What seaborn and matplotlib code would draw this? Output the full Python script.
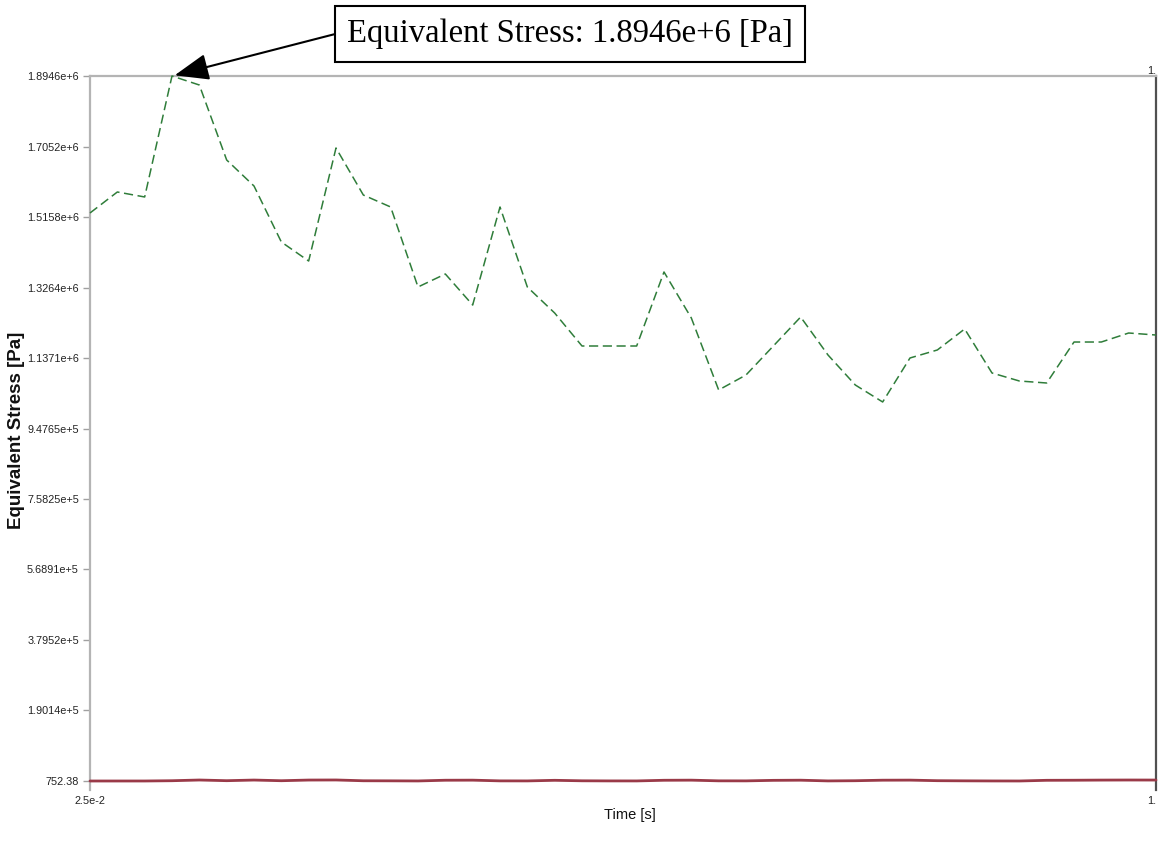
import matplotlib
matplotlib.use("Agg")
import matplotlib.pyplot as plt
import pandas as pd
import seaborn as sns

# Time steps of the transient run [s]
time_s = [0.025, 0.05, 0.075, 0.1, 0.125, 0.15, 0.175, 0.2, 0.225, 0.25,
          0.275, 0.3, 0.325, 0.35, 0.375, 0.4, 0.425, 0.45, 0.475, 0.5,
          0.525, 0.55, 0.575, 0.6, 0.625, 0.65, 0.675, 0.7, 0.725, 0.75,
          0.775, 0.8, 0.825, 0.85, 0.875, 0.9, 0.925, 0.95, 0.975, 1.0]

# Maximum equivalent (von Mises) stress per step [Pa]
max_stress = [1.5266e6, 1.5830e6, 1.5696e6, 1.8946e6, 1.8704e6, 1.6690e6,
              1.5991e6, 1.4487e6, 1.3976e6, 1.7012e6, 1.5749e6, 1.5427e6,
              1.3278e6, 1.3627e6, 1.2794e6, 1.5427e6, 1.3278e6, 1.2579e6,
              1.1693e6, 1.1693e6, 1.1693e6, 1.3681e6, 1.2445e6, 1.0511e6,
              1.0914e6, 1.1693e6, 1.2472e6, 1.1451e6, 1.0645e6, 1.0189e6,
              1.1371e6, 1.1586e6, 1.2150e6, 1.0968e6, 1.0753e6, 1.0699e6,
              1.1800e6, 1.1800e6, 1.2042e6, 1.1988e6]

# Minimum equivalent stress per step [Pa]
min_stress = [752.38, 760.0, 780.0, 1500.0, 3400.0, 1600.0, 3300.0, 1500.0,
              3300.0, 3500.0, 1400.0, 1200.0, 900.0, 2800.0, 3000.0, 1100.0,
              1000.0, 2600.0, 1300.0, 1000.0, 950.0, 2700.0, 3000.0, 1200.0,
              1100.0, 2500.0, 2900.0, 1000.0, 1500.0, 2900.0, 3100.0, 1600.0,
              1200.0, 900.0, 800.0, 2600.0, 2800.0, 3200.0, 3400.0, 3300.0]

ytick_values = [752.38, 1.9014e5, 3.7952e5, 5.6891e5, 7.5825e5, 9.4765e5,
                1.1371e6, 1.3264e6, 1.5158e6, 1.7052e6, 1.8946e6]
ytick_labels = ["752.38", "1.9014e+5", "3.7952e+5", "5.6891e+5", "7.5825e+5",
                "9.4765e+5", "1.1371e+6", "1.3264e+6", "1.5158e+6",
                "1.7052e+6", "1.8946e+6"]
xtick_values = [0.025, 1.0]
xtick_labels = ["2.5e-2", "1."]

peak_label = "Equivalent Stress: 1.8946e+6 [Pa]"

sns.set_style("white")
plt.rcParams["font.family"] = ["Liberation Sans", "DejaVu Sans"]

df = pd.DataFrame({"time": time_s, "max": max_stress, "min": min_stress})

W, H = 1158, 858
fig = plt.figure(figsize=(W / 100, H / 100), dpi=100)
ax = fig.add_axes([90 / W, 1 - 790 / H, (1156 - 90) / W, (790 - 76) / H])

sns.lineplot(data=df, x="time", y="min", ax=ax, color="#9a3a48", linewidth=2.0,
             errorbar=None, sort=False, clip_on=False, zorder=3)
sns.lineplot(data=df, x="time", y="max", ax=ax, color="#2f7d3a", linewidth=1.1,
             linestyle=(0, (6, 3)), errorbar=None, sort=False, clip_on=False, zorder=3)

ax.set_xlim(time_s[0], time_s[-1])
ax.set_ylim(752.38 - 9 * 2686.3, 1.8946e6)

ax.set_yticks(ytick_values)
ax.set_yticklabels(ytick_labels)
ax.set_xticks(xtick_values)
ax.set_xticklabels(xtick_labels)
ax.tick_params(axis="y", which="both", left=True, length=5, width=1,
               color="#a0a0a0", labelsize=7.8, labelcolor="#222222", pad=3)
ax.tick_params(axis="x", length=0, labelsize=7.8, labelcolor="#222222", pad=4)
for lbl in ax.get_xticklabels():
    if lbl.get_text() == "1.":
        lbl.set_horizontalalignment("right")
    else:
        lbl.set_horizontalalignment("center")

for side in ("left", "top"):
    ax.spines[side].set_color("#b4b4b4")
    ax.spines[side].set_linewidth(1.6)
ax.spines["bottom"].set_visible(False)
ax.spines["right"].set_color("#505050")
ax.spines["right"].set_linewidth(1.6)

ax.set_xlabel("Time [s]", fontsize=10.5, color="#111111")
ax.xaxis.set_label_coords((630 - 90) / 1066, -(815 - 790) / 714)
ax.xaxis.label.set_va("center")

ax.set_ylabel("Equivalent Stress [Pa]", fontsize=13.5, fontweight="bold",
              color="#111111")
ax.yaxis.set_label_coords((17 - 90) / 1066, (790 - 430) / 714)
ax.yaxis.label.set_va("center")

# upper end of the time range shown on the top edge
ax.text(1.0, 1.0, "1.", transform=ax.transAxes, ha="right", va="bottom",
        fontsize=7.8, color="#222222")

# call-out for the peak value
peak_idx = max_stress.index(max(max_stress))
ax.annotate(peak_label, xy=(time_s[peak_idx], max_stress[peak_idx]),
            xycoords="data", xytext=(570, H - 34), textcoords="figure pixels",
            ha="center", va="center", fontsize=23.5,
            family=["Liberation Serif", "DejaVu Serif"], color="black",
            bbox=dict(boxstyle="square,pad=0.38", fc="white", ec="black", lw=1.5),
            arrowprops=dict(arrowstyle="-|>,head_length=0.9,head_width=0.35",
                            color="black", lw=1.5, shrinkA=0, shrinkB=2,
                            relpos=(0.0, 0.6)),
            annotation_clip=False, zorder=5)

fig.savefig("out.png", dpi=100, facecolor="white")
